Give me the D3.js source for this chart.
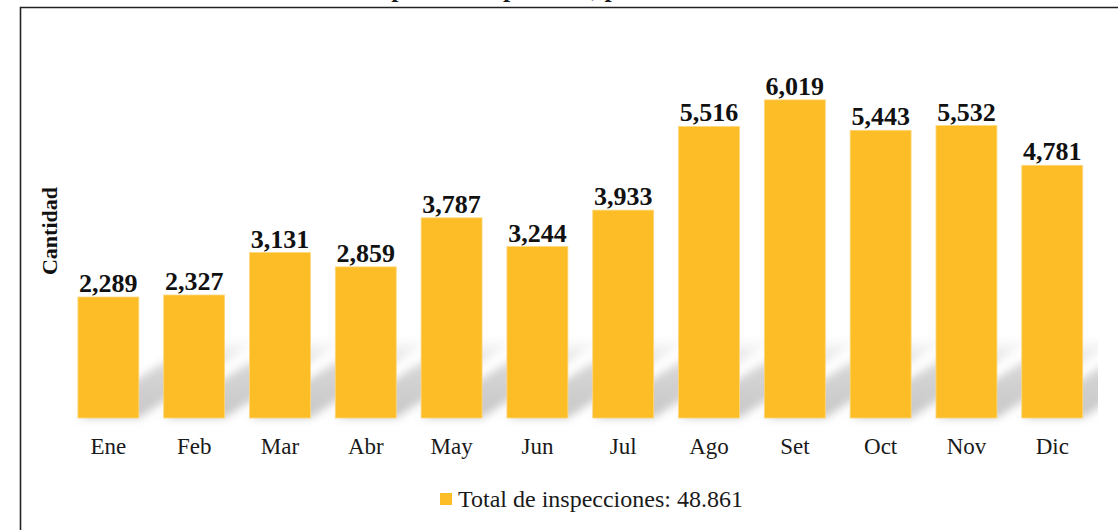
<!DOCTYPE html>
<html>
<head>
<meta charset="utf-8">
<script src="https://cdn.jsdelivr.net/npm/d3@7"></script>
<style>
  body { margin: 0; background: #fff; }
  svg { display: block; font-family: "Liberation Serif", "Times New Roman", serif; }
</style>
</head>
<body>
<div id="chart"></div>
<script>
// data
const months = ['Ene', 'Feb', 'Mar', 'Abr', 'May', 'Jun', 'Jul', 'Ago', 'Set', 'Oct', 'Nov', 'Dic'];
const totals = [2289, 2327, 3131, 2859, 3787, 3244, 3933, 5516, 6019, 5443, 5532, 4781];
const legendLabel = 'Total de inspecciones: 48.861';
const yTitle = 'Cantidad';
const chartTitle = 'Número de inspecciones por mes, periodo enero - diciembre';

const width = 1118, height = 530;
const base = 418;
const barColor = '#fcbd27';

const svg = d3.select('#chart').append('svg')
  .attr('width', width)
  .attr('height', height);

const defs = svg.append('defs');
defs.append('filter').attr('id', 'blur')
  .attr('x', '-20%').attr('y', '-20%').attr('width', '140%').attr('height', '140%')
  .append('feGaussianBlur').attr('stdDeviation', 4);
const grad = defs.append('linearGradient').attr('id', 'shade')
  .attr('x1', 0).attr('y1', 1).attr('x2', 0).attr('y2', 0);
grad.append('stop').attr('offset', '0%').attr('stop-color', '#bdbdbd').attr('stop-opacity', 0.85);
grad.append('stop').attr('offset', '60%').attr('stop-color', '#c6c6c6').attr('stop-opacity', 0.75);
grad.append('stop').attr('offset', '100%').attr('stop-color', '#d0d0d0').attr('stop-opacity', 0);
defs.append('clipPath').attr('id', 'plotclip')
  .append('rect').attr('x', 21).attr('y', 8).attr('width', 1077).attr('height', 420);

// title, mostly cut off at the top as in the source
svg.append('text')
  .attr('x', 560)
  .attr('y', -3)
  .attr('text-anchor', 'middle')
  .attr('font-weight', 'bold')
  .attr('font-size', 26)
  .attr('fill', '#1a1a1a')
  .text(chartTitle);

// frame
svg.append('path')
  .attr('d', `M20.5,${height}V7.5H${width}`)
  .attr('fill', 'none')
  .attr('stroke', '#222')
  .attr('stroke-width', 1.6);

const x = d3.scaleBand()
  .domain(months)
  .range([53, 1107.6])
  .padding(0.29);

const y = d3.scaleLinear()
  .domain([0, 7000])
  .range([base, 48]);

// slanted floor shadows
const dy = 80, dx = dy / 0.65;
svg.append('g')
  .attr('clip-path', 'url(#plotclip)')
  .selectAll('path')
  .data(months)
  .enter().append('path')
  .attr('d', d => {
    const x0 = x(d), x1 = x(d) + x.bandwidth();
    return `M${x0},${base}L${x1},${base}L${x1 + dx},${base - dy}L${x0 + dx},${base - dy}Z`;
  })
  .attr('fill', 'url(#shade)')
  .attr('filter', 'url(#blur)');

svg.selectAll('.bar')
  .data(totals)
  .enter().append('rect')
  .attr('class', 'bar')
  .attr('x', (d, i) => x(months[i]))
  .attr('y', d => y(d))
  .attr('width', x.bandwidth())
  .attr('height', d => base - y(d))
  .attr('fill', barColor)
  .attr('stroke', '#fdd77e')
  .attr('stroke-width', 0.8);

svg.selectAll('.val')
  .data(totals)
  .enter().append('text')
  .attr('class', 'val')
  .attr('x', (d, i) => x(months[i]) + x.bandwidth() / 2)
  .attr('y', d => y(d) - 5)
  .attr('text-anchor', 'middle')
  .attr('font-weight', 'bold')
  .attr('font-size', 26)
  .attr('fill', '#111')
  .text(d => d3.format(',')(d));

const xAxis = svg.append('g')
  .attr('transform', `translate(0,${base})`)
  .call(d3.axisBottom(x).tickSize(0).tickPadding(20));
xAxis.select('.domain').remove();
xAxis.selectAll('text')
  .attr('font-family', '"Liberation Serif", "Times New Roman", serif')
  .attr('font-size', 23)
  .attr('fill', '#1a1a1a');

svg.append('text')
  .attr('transform', 'translate(57,231) rotate(-90)')
  .attr('text-anchor', 'middle')
  .attr('font-weight', 'bold')
  .attr('font-size', 22)
  .attr('fill', '#111')
  .text(yTitle);

// legend
const legend = svg.append('g').attr('transform', 'translate(440,493)');
legend.append('rect')
  .attr('width', 12).attr('height', 12)
  .attr('fill', barColor);
legend.append('text')
  .attr('x', 18)
  .attr('y', 14)
  .attr('font-size', 24)
  .attr('fill', '#1a1a1a')
  .text(legendLabel);
</script>
</body>
</html>
